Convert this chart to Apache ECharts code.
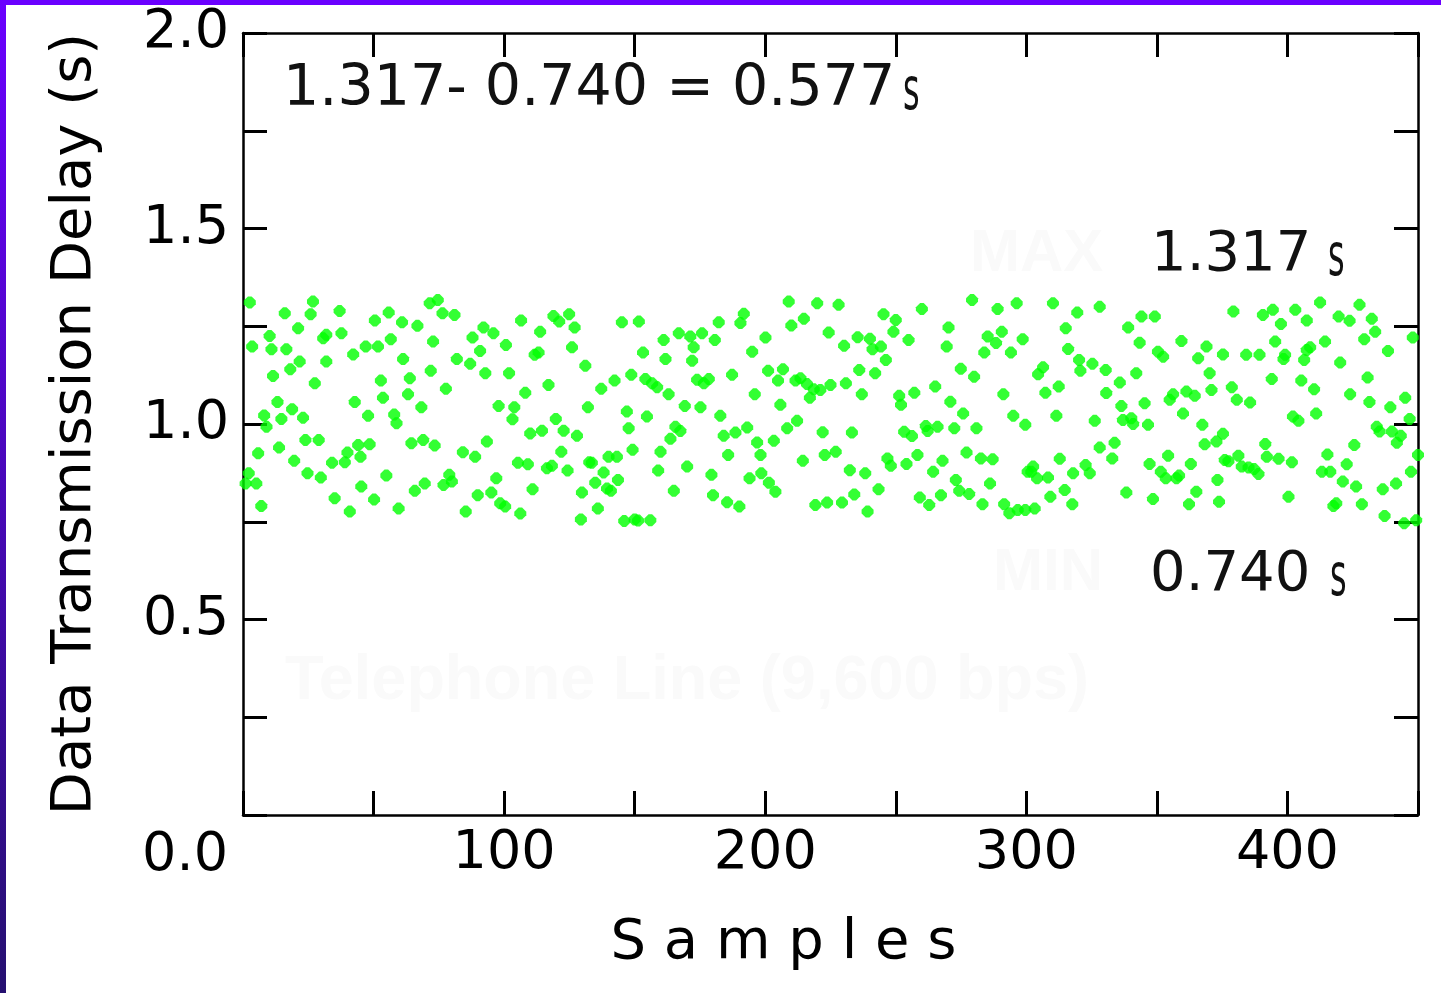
<!DOCTYPE html>
<html>
<head>
<meta charset="utf-8">
<script src="https://cdn.jsdelivr.net/npm/echarts@6/dist/echarts.min.js"></script>
<style>
html,body{margin:0;padding:0;background:#fff;}
#c{width:1441px;height:993px;}
</style>
</head>
<body>
<div id="c"></div>
<script>
// ---- Data: [sample, delay in s] ----
const block1 = [[2.6,1.311],[26.8,1.313],[16.0,1.283],[25.9,1.281],[37.0,1.289],[50.5,1.265],[55.8,1.285],[60.9,1.260],[66.8,1.251],[71.5,1.309],[21.1,1.245],[10.2,1.225],[31.9,1.228],[30.7,1.219],[37.7,1.232],[56.6,1.217],[3.5,1.198],[10.9,1.191],[16.6,1.191],[42.2,1.178],[47.0,1.198],[51.7,1.198],[72.8,1.211],[61.3,1.166],[21.7,1.160],[31.9,1.160],[18.1,1.140],[11.5,1.123],[27.5,1.104],[52.8,1.111],[63.9,1.117],[71.9,1.136],[53.6,1.067],[63.2,1.076],[13.2,1.056],[42.8,1.056],[8.1,1.022],[14.7,1.013],[18.8,1.038],[23.0,1.016],[47.9,1.021],[57.9,1.024],[68.3,1.043],[9.0,0.993],[58.8,1.002],[23.9,0.959],[29.0,0.959],[5.8,0.925],[13.8,0.940],[19.6,0.906],[34.1,0.901],[39.0,0.902],[40.0,0.927],[44.1,0.946],[45.0,0.916],[48.5,0.948],[64.5,0.951],[69.0,0.959],[73.4,0.945],[2.2,0.874],[1.0,0.848],[5.1,0.848],[24.7,0.874],[29.8,0.863],[54.9,0.868],[7.0,0.790],[35.1,0.810],[45.3,0.840],[50.2,0.807],[40.9,0.776],[59.6,0.784],[65.8,0.829],[69.6,0.848]];
const block2 = [[74.6,1.317],[76.4,1.283],[81.0,1.279],[106.5,1.265],[118.9,1.276],[121.1,1.262],[124.9,1.281],[127.0,1.247],[145.1,1.260],[92.1,1.247],[95.9,1.232],[87.9,1.221],[113.8,1.236],[100.7,1.202],[126.0,1.196],[90.8,1.187],[111.7,1.177],[113.2,1.183],[81.9,1.166],[87.0,1.154],[92.8,1.130],[101.9,1.130],[131.1,1.149],[148.7,1.126],[142.3,1.111],[137.2,1.090],[117.0,1.100],[108.1,1.080],[77.7,1.090],[97.9,1.046],[103.9,1.043],[103.2,1.012],[132.1,1.043],[147.0,1.032],[119.8,1.013],[114.5,0.983],[122.8,0.983],[110.0,0.976],[127.9,0.970],[147.7,0.989],[93.4,0.955],[84.2,0.928],[88.9,0.916],[121.9,0.929],[149.2,0.934],[105.3,0.901],[109.1,0.897],[116.4,0.887],[118.3,0.893],[124.3,0.881],[132.6,0.902],[133.6,0.901],[140.0,0.916],[143.2,0.916],[138.1,0.876],[143.6,0.857],[79.0,0.870],[76.8,0.844],[80.0,0.853],[97.0,0.861],[134.9,0.850],[139.4,0.835],[140.9,0.829],[110.9,0.833],[89.9,0.818],[95.1,0.825],[98.5,0.797],[100.4,0.789],[129.8,0.825],[85.3,0.776],[106.2,0.771],[135.9,0.784],[129.4,0.756],[146.0,0.752],[150.0,0.756]];
const block3 = [[209.0,1.313],[219.9,1.309],[151.6,1.262],[182.2,1.260],[191.8,1.282],[190.5,1.258],[210.0,1.252],[214.8,1.269],[224.3,1.234],[161.1,1.215],[166.9,1.232],[171.3,1.224],[175.8,1.232],[180.7,1.215],[172.6,1.196],[200.1,1.221],[153.2,1.183],[161.8,1.166],[172.0,1.162],[195.0,1.185],[154.1,1.115],[156.7,1.104],[158.6,1.094],[163.0,1.076],[173.9,1.113],[176.5,1.104],[178.4,1.115],[187.3,1.126],[196.0,1.076],[201.1,1.136],[206.8,1.140],[204.9,1.111],[211.6,1.111],[213.5,1.117],[216.0,1.102],[218.6,1.089],[217.1,1.067],[221.1,1.087],[225.0,1.100],[169.2,1.046],[175.2,1.043],[182.8,1.021],[205.8,1.049],[154.7,1.019],[165.6,0.993],[167.5,0.982],[163.7,0.962],[184.1,0.970],[188.6,0.978],[193.1,0.991],[208.4,0.989],[212.2,1.008],[222.0,0.979],[196.9,0.953],[203.3,0.957],[159.9,0.929],[185.8,0.921],[198.2,0.921],[214.4,0.906],[222.8,0.921],[170.1,0.891],[159.0,0.881],[179.4,0.870],[194.0,0.861],[198.5,0.874],[201.4,0.850],[203.9,0.827],[165.0,0.829],[180.0,0.818],[185.4,0.800],[190.1,0.789],[219.2,0.793],[223.7,0.799],[151.3,0.753],[156.0,0.754]];
const block4 = [[228.1,1.305],[245.3,1.281],[250.0,1.266],[260.0,1.294],[279.2,1.317],[289.0,1.294],[296.3,1.309],[235.4,1.222],[230.2,1.200],[240.1,1.218],[241.1,1.191],[244.3,1.198],[249.1,1.236],[254.9,1.215],[246.2,1.164],[270.2,1.247],[269.5,1.198],[285.2,1.224],[290.6,1.236],[288.4,1.207],[283.9,1.183],[294.1,1.183],[298.6,1.217],[236.0,1.138],[242.1,1.130],[274.9,1.141],[280.0,1.121],[230.9,1.104],[237.0,1.076],[251.3,1.072],[252.0,1.049],[257.1,1.080],[265.1,1.096],[270.9,1.057],[275.8,1.027],[291.2,1.076],[295.0,1.021],[299.6,0.998],[233.2,0.978],[253.2,0.980],[256.2,0.969],[261.5,0.995],[262.2,0.982],[266.0,0.993],[272.4,0.989],[280.9,0.989],[227.0,0.929],[246.8,0.912],[248.1,0.893],[254.1,0.898],[258.3,0.921],[267.9,0.906],[277.1,0.927],[282.6,0.912],[287.1,0.910],[232.4,0.882],[238.3,0.874],[264.3,0.878],[273.0,0.857],[286.1,0.848],[300.5,0.878],[243.4,0.833],[234.1,0.820],[274.3,0.829],[278.1,0.821],[259.2,0.812],[267.3,0.818],[229.4,0.799],[262.8,0.793],[283.2,0.795],[239.2,0.776],[291.5,0.795],[293.5,0.772],[296.7,0.780],[299.6,0.780]];
const block5 = [[310.2,1.309],[328.1,1.300],[319.5,1.285],[344.1,1.275],[349.2,1.275],[315.1,1.245],[339.0,1.247],[343.4,1.208],[359.4,1.212],[316.0,1.192],[350.4,1.185],[352.4,1.172],[369.0,1.198],[365.8,1.168],[375.3,1.178],[320.2,1.164],[325.3,1.154],[320.7,1.136],[330.4,1.138],[342.1,1.130],[370.2,1.130],[306.4,1.145],[304.5,1.127],[335.8,1.106],[312.4,1.096],[307.3,1.080],[330.6,1.079],[336.4,1.046],[345.3,1.053],[354.9,1.062],[356.2,1.076],[361.3,1.083],[364.5,1.072],[370.9,1.087],[311.5,1.021],[326.2,1.008],[337.0,1.010],[340.2,1.015],[340.9,1.000],[346.6,0.998],[360.0,1.027],[367.4,0.998],[375.3,0.975],[328.1,0.940],[333.8,0.952],[332.9,0.912],[372.8,0.955],[368.3,0.948],[312.8,0.911],[302.6,0.891],[301.9,0.878],[304.1,0.861],[308.3,0.863],[317.9,0.874],[322.7,0.895],[324.3,0.874],[347.2,0.898],[351.5,0.878],[354.3,0.919],[353.4,0.861],[357.5,0.861],[358.5,0.868],[363.0,0.898],[373.2,0.857],[376.0,0.908],[314.7,0.831],[309.2,0.814],[317.6,0.795],[338.3,0.825],[348.5,0.808],[365.1,0.827],[362.3,0.795],[373.8,0.801],[303.2,0.784]];
const block6 = [[379.3,1.288],[390.6,1.279],[394.4,1.292],[403.0,1.292],[412.5,1.311],[427.6,1.305],[397.5,1.256],[407.4,1.265],[419.6,1.275],[423.8,1.264],[432.3,1.269],[433.6,1.236],[429.4,1.217],[448.0,1.221],[395.3,1.211],[414.4,1.211],[408.7,1.196],[407.4,1.189],[384.2,1.177],[389.3,1.177],[399.1,1.177],[398.5,1.166],[406.4,1.164],[420.2,1.157],[438.5,1.187],[394.0,1.115],[405.3,1.111],[410.2,1.089],[430.7,1.119],[378.7,1.094],[380.6,1.062],[385.7,1.055],[424.0,1.076],[431.4,1.056],[439.4,1.043],[445.1,1.067],[402.1,1.019],[404.2,1.008],[411.0,1.027],[446.8,1.013],[434.2,0.993],[435.3,0.981],[440.0,0.981],[443.4,0.970],[441.9,0.952],[391.5,0.949],[425.6,0.946],[377.4,0.905],[381.2,0.919],[382.5,0.891],[385.1,0.889],[387.2,0.885],[388.9,0.872],[392.1,0.916],[396.6,0.911],[401.7,0.902],[415.3,0.922],[413.2,0.878],[416.4,0.878],[422.7,0.897],[450.0,0.921],[447.3,0.878],[421.2,0.853],[426.3,0.840],[436.5,0.833],[441.6,0.848],[400.4,0.814],[417.6,0.790],[418.7,0.797],[428.5,0.795],[437.2,0.765],[444.7,0.746],[449.3,0.754]];

const xTickLabels = ['100','200','300','400'];
const yTickLabels = ['0.5','1.0','1.5','2.0'];
const maxDelay = '1.317';
const minDelay = '0.740';
const spread = '0.577';

const points = [].concat(block1, block2, block3, block4, block5, block6);

const chart = echarts.init(document.getElementById('c'), null, {renderer:'canvas'});
const FONT = 'DejaVu Sans';
const axisLineStyle = {color:'#000', width:2.5};
const tick = {show:true, inside:true, length:24, lineStyle:{color:'#000', width:3}};
const unitS = (x, y) => ({type:'text', x:x, y:y, scaleX:0.55,
  style:{text:'s', font:'58px "DejaVu Sans"', fill:'#111', align:'left', verticalAlign:'middle'}});

chart.setOption({
  animation:false,
  backgroundColor:'#ffffff',
  grid:{left:243, top:33, right:23, bottom:178},
  xAxis:[{
    type:'value', min:0, max:450, interval:50, position:'bottom',
    axisLine:{show:true, onZero:false, lineStyle:axisLineStyle},
    axisTick:tick,
    splitLine:{show:false},
    axisLabel:{
      fontFamily:FONT, fontSize:54, color:'#000', margin:12,
      formatter: v => xTickLabels.includes(String(v)) ? String(v) : ''
    },
    name:'S a m p l e s', nameLocation:'middle', nameGap:100,
    nameTextStyle:{fontFamily:FONT, fontSize:56, color:'#000', padding:[0,94,0,0]}
  },{
    type:'value', min:0, max:450, interval:50, position:'top',
    axisLine:{show:true, onZero:false, lineStyle:axisLineStyle},
    axisTick:tick, axisLabel:{show:false}, splitLine:{show:false}
  }],
  yAxis:[{
    type:'value', min:0, max:2, interval:0.25, position:'left',
    axisLine:{show:true, onZero:false, lineStyle:axisLineStyle},
    axisTick:tick,
    splitLine:{show:false},
    axisLabel:{
      fontFamily:FONT, fontSize:54, color:'#000', margin:14,
      formatter: v => yTickLabels.includes(v.toFixed(1)) && Math.abs(v*2-Math.round(v*2))<1e-9 ? v.toFixed(1) : ''
    },
    name:'Data Transmission Delay (s)', nameLocation:'middle', nameGap:140,
    nameTextStyle:{fontFamily:FONT, fontSize:56, color:'#000'}
  },{
    type:'value', min:0, max:2, interval:0.25, position:'right',
    axisLine:{show:true, onZero:false, lineStyle:axisLineStyle},
    axisTick:tick, axisLabel:{show:false}, splitLine:{show:false}
  }],
  series:[{
    type:'scatter', xAxisIndex:0, yAxisIndex:0,
    data:points,
    symbol:'path://M3.5,0 L6.5,0 L10,3.5 L10,6.5 L6.5,10 L3.5,10 L0,6.5 L0,3.5 Z', symbolSize:12,
    itemStyle:{color:'#00ff00'}
  }],
  graphic:[
    {type:'rect', left:0, top:0, shape:{width:1441, height:5}, style:{fill:'#6a00ff'}, z:100},
    {type:'rect', left:0, top:0, shape:{width:6, height:993},
      style:{fill:new echarts.graphic.LinearGradient(0,0,0,1,[{offset:0,color:'#6a00ff'},{offset:1,color:'#251070'}])}, z:100},
    {type:'text', x:228, y:856, style:{text:'0.0', font:'54px "DejaVu Sans"', fill:'#000', align:'right', verticalAlign:'middle'}},
    {type:'text', x:283, y:90, style:{text:maxDelay+'- '+minDelay+' = '+spread, font:'57px "DejaVu Sans"', fill:'#111', align:'left', verticalAlign:'middle'}},
    unitS(903, 94),
    {type:'text', x:970, y:254, style:{text:'MAX', font:'bold 60px "Liberation Sans"', fill:'#fafafa', align:'left', verticalAlign:'middle'}},
    {type:'text', x:1151, y:255, style:{text:maxDelay, font:'56px "DejaVu Sans"', fill:'#111', align:'left', verticalAlign:'middle'}},
    unitS(1328, 260),
    {type:'text', x:993, y:573, style:{text:'MIN', font:'bold 60px "Liberation Sans"', fill:'#fafafa', align:'left', verticalAlign:'middle'}},
    {type:'text', x:1150, y:575, style:{text:minDelay, font:'56px "DejaVu Sans"', fill:'#111', align:'left', verticalAlign:'middle'}},
    unitS(1330, 580),
    {type:'text', x:285, y:682, style:{text:'Telephone Line (9,600 bps)', font:'bold 63px "Liberation Sans"', fill:'#fafafa', align:'left', verticalAlign:'middle'}}
  ]
});
</script>
</body>
</html>
